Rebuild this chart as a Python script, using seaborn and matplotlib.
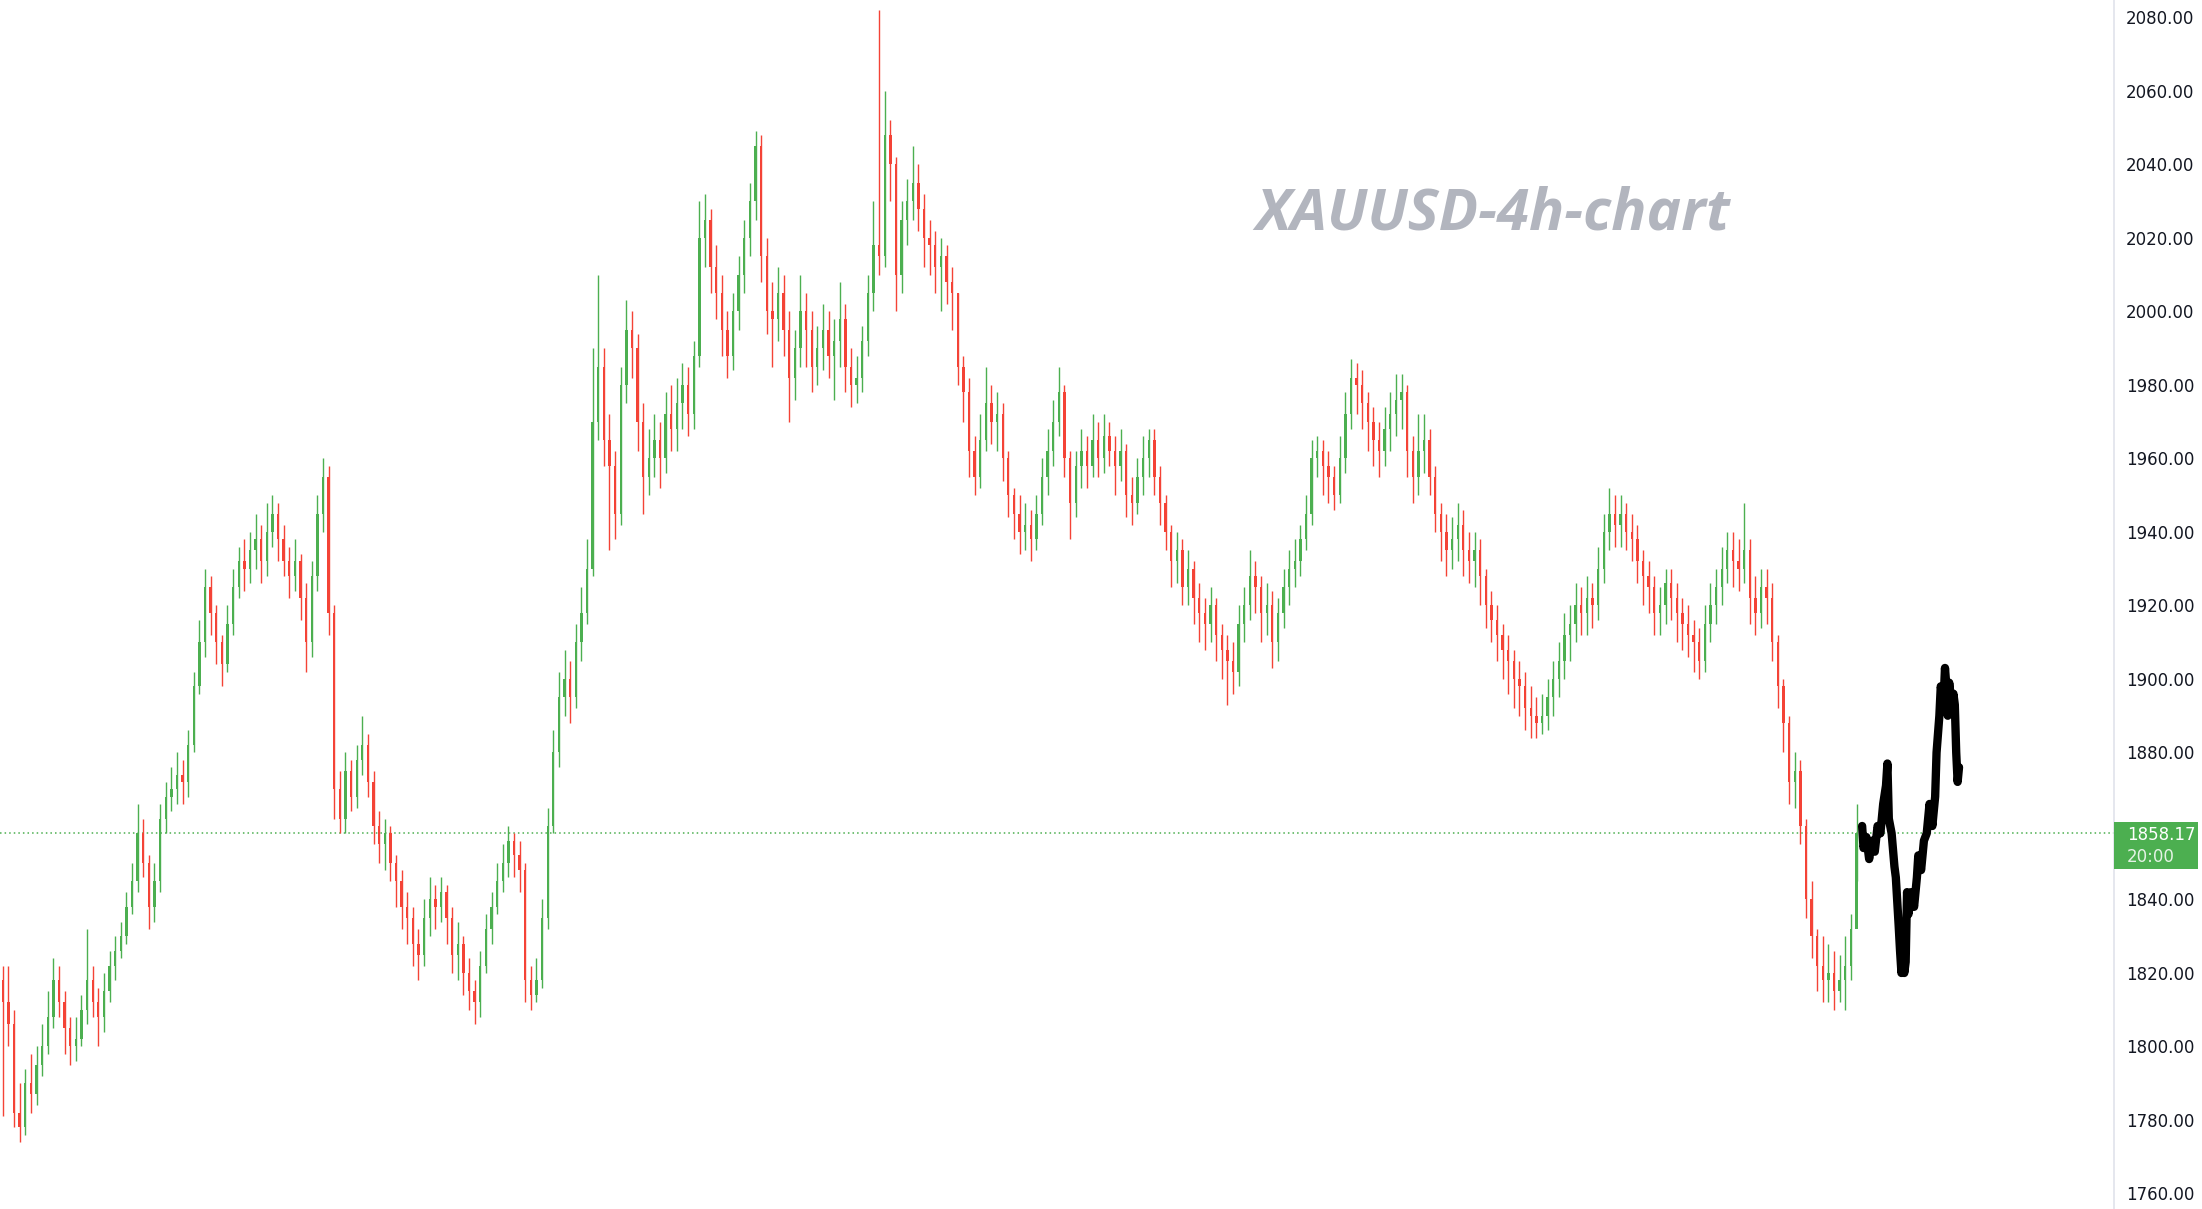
import matplotlib.pyplot as plt
import numpy as np
import seaborn as sns
import pandas as pd

# 4h candles, oldest first (open of each bar = previous close)
first_open = 1818
closes = [
  1812,1806,1782,1778,1790,1787,1795,1800,1808,1818,
  1812,1805,1800,1802,1810,1818,1812,1808,1815,1822,
  1826,1830,1838,1845,1858,1850,1838,1845,1862,1868,
  1870,1874,1872,1882,1898,1910,1925,1918,1910,1904,
  1915,1925,1932,1930,1935,1938,1932,1940,1945,1938,
  1932,1928,1932,1922,1910,1928,1945,1955,1918,1870,
  1862,1875,1868,1878,1882,1872,1860,1855,1858,1850,
  1845,1838,1835,1828,1825,1835,1840,1838,1842,1835,
  1825,1828,1820,1815,1812,1822,1832,1838,1845,1850,
  1856,1852,1848,1818,1814,1818,1835,1860,1880,1895,
  1900,1895,1910,1918,1930,1970,1985,1965,1958,1945,
  1980,1995,1990,1970,1955,1960,1965,1960,1972,1968,
  1975,1980,1972,1988,2020,2025,2012,2005,1995,1988,
  2000,2010,2020,2030,2045,2015,2000,1998,2005,1995,
  1982,1990,2000,1995,1985,1990,1995,1988,1992,1998,
  1985,1980,1982,1992,2005,2018,2015,2048,2040,2010,
  2025,2030,2035,2028,2020,2018,2012,2015,2008,2005,
  1985,1978,1962,1955,1965,1975,1970,1972,1960,1950,
  1945,1940,1942,1938,1945,1955,1962,1970,1978,1960,
  1948,1958,1962,1958,1965,1960,1966,1962,1958,1962,
  1950,1948,1955,1960,1965,1955,1948,1940,1932,1935,
  1925,1930,1922,1918,1915,1920,1912,1908,1905,1902,
  1915,1920,1928,1925,1918,1920,1910,1918,1925,1930,
  1932,1938,1945,1960,1962,1958,1955,1950,1960,1972,
  1982,1980,1975,1970,1965,1962,1968,1972,1976,1978,
  1962,1955,1962,1965,1955,1945,1940,1935,1938,1942,
  1935,1932,1935,1928,1920,1916,1912,1908,1905,1900,
  1898,1892,1890,1888,1890,1895,1900,1905,1912,1915,
  1920,1918,1922,1920,1930,1940,1945,1942,1945,1940,
  1938,1932,1928,1925,1918,1920,1926,1922,1918,1915,
  1912,1910,1905,1915,1920,1925,1930,1935,1932,1930,
  1935,1922,1918,1925,1922,1910,1898,1888,1872,1875,
  1860,1840,1830,1822,1818,1820,1815,1818,1822,1832,
  1858,
]
highs = [
  1822,1822,1810,1790,1794,1798,1800,1806,1815,1824,
  1822,1815,1808,1808,1814,1832,1822,1816,1820,1826,
  1830,1834,1842,1850,1866,1862,1852,1850,1866,1872,
  1876,1880,1878,1886,1902,1916,1930,1928,1920,1912,
  1920,1930,1936,1938,1940,1945,1942,1948,1950,1948,
  1942,1936,1938,1934,1926,1932,1950,1960,1958,1920,
  1875,1880,1878,1882,1890,1885,1875,1864,1862,1860,
  1852,1848,1842,1838,1832,1840,1846,1844,1846,1844,
  1838,1834,1830,1824,1818,1826,1836,1842,1850,1855,
  1860,1858,1856,1850,1822,1824,1840,1865,1886,1902,
  1908,1905,1915,1925,1938,1990,2010,1990,1972,1962,
  1985,2003,2000,1994,1975,1968,1972,1970,1978,1980,
  1982,1986,1985,1992,2030,2032,2028,2018,2010,2000,
  2005,2015,2025,2035,2049,2048,2020,2008,2012,2010,
  2000,1995,2010,2005,2000,1996,2002,2000,1998,2008,
  2002,1990,1988,1996,2010,2030,2082,2060,2052,2042,
  2030,2036,2045,2040,2032,2025,2022,2020,2018,2012,
  2005,1988,1982,1966,1972,1985,1980,1978,1975,1962,
  1952,1950,1948,1946,1950,1960,1968,1976,1985,1980,
  1962,1962,1968,1966,1972,1970,1972,1970,1966,1968,
  1964,1955,1960,1966,1968,1968,1958,1950,1942,1940,
  1938,1935,1932,1926,1922,1925,1922,1915,1912,1910,
  1920,1925,1935,1932,1928,1926,1924,1922,1930,1935,
  1938,1942,1950,1965,1966,1965,1962,1958,1966,1978,
  1987,1986,1984,1978,1974,1970,1974,1978,1983,1983,
  1980,1966,1972,1972,1968,1958,1948,1945,1944,1948,
  1946,1940,1940,1938,1930,1924,1920,1915,1912,1908,
  1905,1902,1898,1895,1896,1900,1905,1910,1918,1920,
  1926,1925,1928,1926,1936,1945,1952,1950,1950,1948,
  1945,1942,1935,1932,1928,1925,1930,1930,1926,1922,
  1920,1916,1914,1920,1926,1930,1936,1940,1940,1938,
  1948,1938,1928,1930,1930,1926,1912,1900,1890,1880,
  1878,1862,1845,1832,1830,1828,1826,1825,1830,1836,
  1866,
]
lows = [
  1781,1800,1778,1774,1776,1782,1784,1792,1798,1805,
  1808,1798,1795,1796,1800,1806,1808,1800,1804,1812,
  1818,1824,1828,1836,1842,1846,1832,1834,1842,1858,
  1864,1866,1866,1868,1880,1896,1906,1912,1904,1898,
  1902,1912,1922,1924,1926,1930,1926,1928,1936,1932,
  1928,1922,1924,1916,1902,1906,1924,1940,1912,1862,
  1858,1858,1864,1865,1874,1868,1855,1850,1848,1845,
  1838,1832,1828,1822,1818,1822,1830,1832,1834,1828,
  1820,1818,1814,1810,1806,1808,1820,1828,1836,1842,
  1846,1846,1842,1812,1810,1812,1816,1832,1858,1876,
  1890,1888,1892,1905,1915,1928,1965,1958,1935,1938,
  1942,1975,1982,1962,1945,1950,1955,1952,1956,1962,
  1962,1968,1966,1968,1985,2012,2005,1998,1988,1982,
  1984,1995,2005,2015,2025,2008,1994,1985,1992,1988,
  1970,1976,1985,1985,1978,1980,1984,1982,1976,1985,
  1978,1974,1975,1978,1988,2000,2010,2012,2030,2000,
  2005,2018,2025,2022,2012,2010,2005,2000,2002,1995,
  1980,1970,1955,1950,1952,1962,1964,1962,1954,1944,
  1938,1934,1935,1932,1935,1942,1950,1958,1966,1955,
  1938,1944,1952,1952,1955,1955,1956,1958,1950,1954,
  1944,1942,1945,1950,1955,1950,1942,1935,1925,1926,
  1920,1920,1915,1910,1908,1910,1905,1900,1893,1896,
  1898,1910,1916,1918,1910,1912,1903,1905,1914,1920,
  1925,1928,1935,1942,1955,1950,1948,1946,1948,1956,
  1968,1972,1968,1962,1958,1955,1958,1962,1966,1968,
  1955,1948,1950,1956,1950,1940,1932,1928,1930,1932,
  1928,1926,1925,1920,1914,1910,1905,1900,1896,1892,
  1890,1886,1884,1884,1885,1886,1890,1895,1900,1905,
  1910,1912,1912,1914,1916,1926,1935,1936,1936,1935,
  1932,1926,1920,1918,1912,1912,1915,1916,1910,1908,
  1906,1902,1900,1902,1910,1915,1920,1926,1925,1924,
  1926,1915,1912,1914,1915,1905,1892,1880,1866,1865,
  1855,1835,1824,1815,1812,1812,1810,1812,1810,1818,
  1845,
]

# hand drawn projection (bar position, price)
drawn_x = [331.0, 331.25, 331.75, 332.25, 332.75, 333.25, 333.75, 334.25, 334.75, 335.25,
           335.5, 335.75, 336.25, 336.75, 337.0, 337.5, 337.75, 338.0, 338.25, 338.5,
           338.75, 339.0, 339.25, 339.75, 340.25, 340.75, 341.0, 341.5, 342.0, 342.5,
           343.0, 343.5, 344.0, 344.25, 344.75, 345.0, 345.5, 345.75, 346.0, 346.25,
           346.5, 347.0, 347.25, 347.5, 347.75, 348.0, 348.25]
drawn_y = [1860, 1854, 1857, 1851, 1856, 1853, 1860, 1858, 1866, 1871,
           1877, 1862, 1858, 1849, 1846, 1833, 1826, 1820, 1824, 1820,
           1823, 1842, 1836, 1842, 1838, 1846, 1852, 1848, 1856, 1858,
           1866, 1860, 1868, 1880, 1890, 1898, 1894, 1903, 1898, 1890,
           1899, 1892, 1896, 1893, 1880, 1872, 1876]

last_price = 1858.17
last_time = "20:00"
title = "XAUUSD-4h-chart"
# 1860.00 sits under the price tag, so it is not printed
yticks = [v for v in range(1760, 2081, 20) if v != 1860]

UP = "#4caf50"
DOWN = "#f44336"

df = pd.DataFrame({"close": closes, "high": highs, "low": lows})
df["open"] = [first_open] + closes[:-1]
df["bar"] = np.arange(len(df))
df["color"] = np.where(df["close"] >= df["open"], UP, DOWN)

sns.set_theme(style="white")
plt.rcParams["font.family"] = ["DejaVu Sans"]

fig = plt.figure(figsize=(22.02, 12.09), dpi=100)
ax = fig.add_axes([0, 0, 2113.5 / 2202, 1])

# wicks + bodies
ax.vlines(df["bar"], df["low"], df["high"], colors=df["color"], lw=1.0, zorder=2)
body_lo = np.minimum(df["open"], df["close"])
body_h = np.maximum(np.abs(df["close"] - df["open"]), 0.4)
ax.bar(df["bar"], body_h, bottom=body_lo, width=0.42, color=df["color"], lw=0, zorder=3)

# last price line
ax.axhline(last_price, color=UP, lw=1.1, ls=(0, (1, 2)), zorder=1)

# drawn path
sns.lineplot(x=drawn_x, y=drawn_y, sort=False, estimator=None, color="black",
             lw=6, ax=ax, zorder=5)

ax.set_xlim(-0.5, 375.75)
ax.set_ylim(1755.78, 2084.76)
ax.set_xticks([])
ax.yaxis.tick_right()
ax.set_yticks(yticks)
ax.set_yticklabels([f"{v:.2f}" for v in yticks], fontsize=12, color="#131722")
ax.tick_params(axis="y", length=0, pad=9)
for s in ["left", "top", "bottom"]:
    ax.spines[s].set_visible(False)
ax.spines["right"].set_color("#e0e3eb")
ax.spines["right"].set_linewidth(1.2)
ax.set_xlabel("")
ax.set_ylabel("")

# watermark title
fig.text(1255 / 2202, 1 - 229 / 1209, title, fontsize=42, fontweight="bold",
         fontstyle="italic", family=["Open Sans", "DejaVu Sans"], color="#b2b5be",
         ha="left", va="baseline")

# price tag on the axis
fig.canvas.draw()
py = ax.transData.transform((0, last_price))[1] / fig.bbox.height
box_h = 47 / 1209
box = plt.Rectangle((2114 / 2202, py - 36 / 1209), 84 / 2202, box_h,
                    transform=fig.transFigure, color=UP, lw=0, zorder=10)
fig.patches.append(box)
fig.text(2127 / 2202, py - 2 / 1209, f"{last_price:.2f}", fontsize=12, color="white",
         ha="left", va="center", zorder=11)
fig.text(2127 / 2202, py - 24 / 1209, last_time, fontsize=12, color="white", alpha=0.85,
         ha="left", va="center", zorder=11)

fig.savefig("out.png", dpi=100, facecolor="white")
